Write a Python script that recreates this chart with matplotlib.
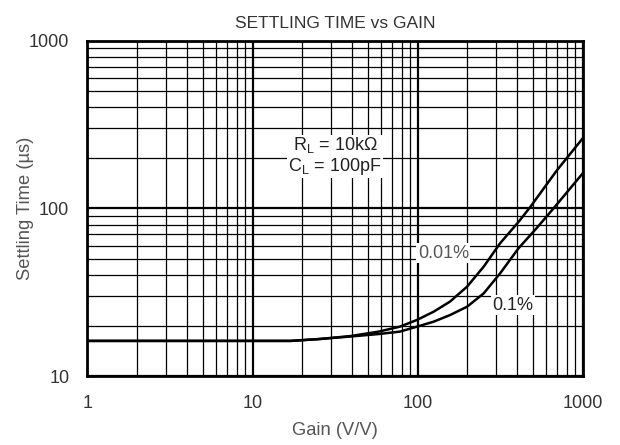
import matplotlib
matplotlib.use("Agg")
import matplotlib.pyplot as plt
from matplotlib.ticker import LogLocator, NullFormatter, FixedLocator

plt.rcParams["font.family"] = ["Liberation Sans", "DejaVu Sans"]
plt.rcParams["mathtext.default"] = "regular"

# ── Data ─────────────────────────────────────────────────────────────────────
gain_001 = [1, 10, 17, 25, 39, 58, 78, 99, 125, 157, 199, 251, 316, 408, 481, 698, 1000]
time_001 = [16.2, 16.2, 16.2, 16.6, 17.3, 18.4, 19.7, 21.6, 24.2, 27.8, 34.1, 44.9,
            62, 83, 102, 169, 262]

gain_01 = [1, 10, 17, 25, 39, 58, 78, 99, 125, 157, 199, 251, 316, 408, 530, 665, 1000]
time_01 = [16.2, 16.2, 16.2, 16.6, 17.2, 17.8, 18.4, 19.7, 21.1, 23.1, 25.9, 31.1,
           41, 57.8, 77, 100, 162]

x_ticks = [1, 10, 100, 1000]
y_ticks = [10, 100, 1000]

LABEL = "#555555"
TICK = "#333333"

fig = plt.figure(figsize=(6.2, 4.45), dpi=100)
ax = fig.add_axes([0.141, 0.155, 0.799, 0.7535])
ax.set_xscale("log")
ax.set_yscale("log")
ax.set_xlim(1, 1000)
ax.set_ylim(10, 1000)

# grid: thin minor, heavier decades
ax.xaxis.set_major_locator(FixedLocator(x_ticks))
ax.yaxis.set_major_locator(FixedLocator(y_ticks))
ax.xaxis.set_minor_locator(LogLocator(base=10, subs=range(2, 10)))
ax.yaxis.set_minor_locator(LogLocator(base=10, subs=range(2, 10)))
ax.xaxis.set_minor_formatter(NullFormatter())
ax.yaxis.set_minor_formatter(NullFormatter())
ax.set_xticklabels([str(v) for v in x_ticks])
ax.set_yticklabels([str(v) for v in y_ticks])
ax.grid(which="minor", color="black", lw=0.9)
ax.grid(which="major", color="black", lw=1.6)
ax.tick_params(which="both", length=0)
ax.tick_params(axis="x", pad=14, labelsize=13, labelcolor=TICK)
ax.tick_params(axis="y", pad=13, labelsize=13, labelcolor=TICK)
for s in ax.spines.values():
    s.set_linewidth(2)
    s.set_color("black")
    s.set_zorder(5)

ax.plot(gain_001, time_001, color="black", lw=1.8, zorder=4)
ax.plot(gain_01, time_01, color="black", lw=1.8, zorder=4)

box = dict(facecolor="white", edgecolor="none", pad=1.0)
ax.text(31.6, 205, "R$_L$ = 10k$\\Omega$\nC$_L$ = 100pF", ha="center", va="center",
        fontsize=13, color="#222222", linespacing=1.05, bbox=box, zorder=6)
ax.text(143, 54, "0.01%", ha="center", va="center", fontsize=13,
        color="#555555", bbox=box, zorder=6)
ax.text(379, 26.5, "0.1%", ha="center", va="center", fontsize=13,
        color="#222222", bbox=box, zorder=6)

ax.set_title("SETTLING TIME vs GAIN", fontsize=12.5, color=TICK, pad=9)
ax.set_xlabel("Gain (V/V)", fontsize=13.2, color=LABEL)
ax.set_ylabel("Settling Time (µs)", fontsize=13.2, color=LABEL)
ax.xaxis.set_label_coords(0.5, -0.138)
ax.yaxis.set_label_coords(-0.108, 0.5)

fig.savefig("out.png", dpi=100, facecolor="white")
